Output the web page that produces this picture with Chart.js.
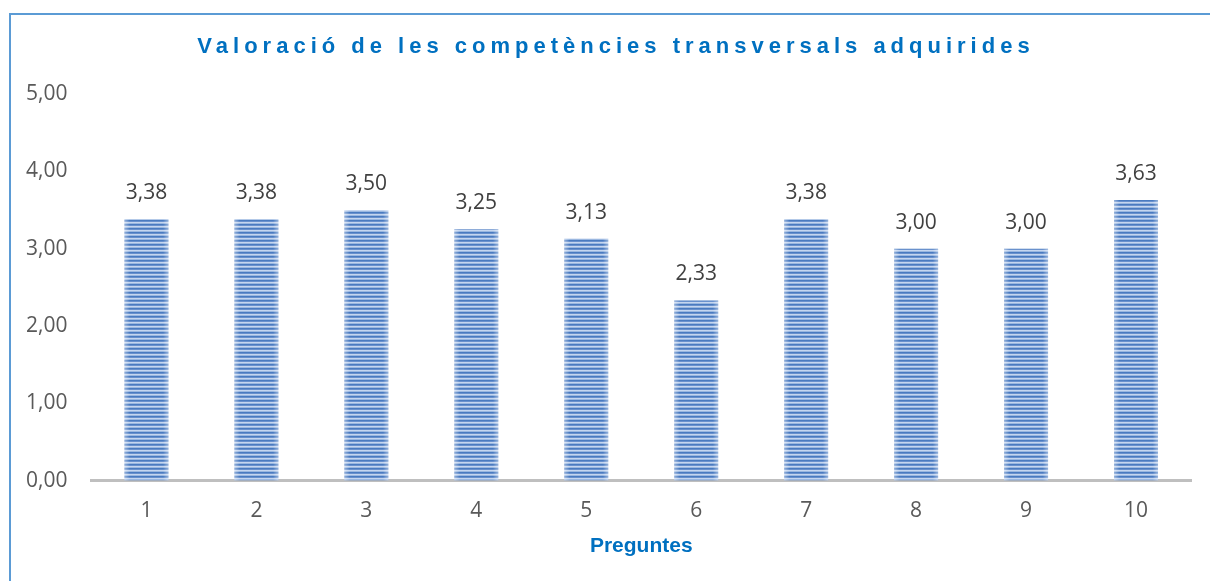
<!DOCTYPE html>
<html>
<head>
<meta charset="utf-8">
<script src="https://cdn.jsdelivr.net/npm/chart.js@4/dist/chart.umd.min.js"></script>
<style>
  html, body { margin: 0; padding: 0; background: #fff; }
  #wrap { position: relative; width: 1210px; height: 581px; }
  #frame { position: absolute; left: 9px; top: 13px; right: 0; bottom: 0; border-left: 2px solid #5B9BD5; border-top: 2px solid #5B9BD5; pointer-events: none; }
  canvas { position: absolute; left: 0; top: 0; }
</style>
</head>
<body>
<div id="wrap">
  <canvas id="c" width="1210" height="581"></canvas>
  <div id="frame"></div>
</div>
<script>
const chartTitle = 'Valoració de les competències transversals adquirides';
const axisTitle = 'Preguntes';
const categories = ['1', '2', '3', '4', '5', '6', '7', '8', '9', '10'];
const values = [3.38, 3.38, 3.50, 3.25, 3.13, 2.33, 3.38, 3.00, 3.00, 3.63];
const yTicks = [0, 1, 2, 3, 4, 5];

const fmt = v => v.toFixed(2).replace('.', ',');

// striped fill
const pc = document.createElement('canvas');
pc.width = 4; pc.height = 4;
const pctx = pc.getContext('2d');
['#4A7BC0', '#6991CD', '#C5D6EF', '#9AB7E0'].forEach((col, i) => { pctx.fillStyle = col; pctx.fillRect(0, i, 4, 1); });
const ctx = document.getElementById('c').getContext('2d');
const stripes = ctx.createPattern(pc, 'repeat');

const valueLabels = {
  id: 'valueLabels',
  afterDatasetsDraw(chart) {
    const c = chart.ctx;
    const meta = chart.getDatasetMeta(0);
    c.save();
    meta.data.forEach(el => {
      const l = el.x - el.width / 2, r = el.x + el.width / 2;
      const g = c.createLinearGradient(l, 0, r, 0);
      g.addColorStop(0, 'rgba(255,255,255,0.4)');
      g.addColorStop(0.12, 'rgba(255,255,255,0)');
      g.addColorStop(0.88, 'rgba(255,255,255,0)');
      g.addColorStop(1, 'rgba(255,255,255,0.4)');
      c.fillStyle = g;
      c.fillRect(l, el.y, el.width, el.base - el.y);
    });
    c.font = '21px "Open Sans"';
    c.fillStyle = '#404040';
    c.textAlign = 'center';
    c.textBaseline = 'middle';
    meta.data.forEach((el, i) => {
      c.fillText(fmt(values[i]), el.x, el.y - 26);
    });
    c.restore();
  }
};

const spacedTitle = {
  id: 'spacedTitle',
  afterDraw(chart) {
    const c = chart.ctx;
    c.save();
    c.font = 'bold 22px "Liberation Sans"';
    c.letterSpacing = '5px';
    c.fillStyle = '#0070C0';
    c.textAlign = 'center';
    c.textBaseline = 'middle';
    c.fillText(chartTitle, 616, 47);
    c.restore();
  }
};

new Chart(ctx, {
  type: 'bar',
  data: {
    labels: categories,
    datasets: [{
      data: values,
      backgroundColor: stripes,
      borderWidth: 0,
      barPercentage: 0.8,
      categoryPercentage: 0.5
    }]
  },
  options: {
    responsive: false,
    animation: false,
    layout: { padding: { left: 2, right: 19, top: 94, bottom: 22 } },
    plugins: { legend: { display: false }, tooltip: { enabled: false }, title: { display: false } },
    scales: {
      y: {
        min: 0, max: 5,
        afterBuildTicks(axis) { axis.ticks = yTicks.map(v => ({ value: v })); },
        grid: { display: false, drawTicks: false },
        border: { display: false },
        ticks: { padding: 24, color: '#595959', font: { family: 'Open Sans', size: 21 }, callback: v => fmt(v) }
      },
      x: {
        grid: { display: false, drawTicks: false },
        border: { display: true, color: '#BFBFBF', width: 3 },
        ticks: { padding: 18, color: '#595959', font: { family: 'Open Sans', size: 21 } },
        title: { display: true, text: axisTitle, color: '#0070C0', font: { family: 'Liberation Sans', size: 21, weight: 'bold' }, padding: { top: -8, bottom: 0 } }
      }
    }
  },
  plugins: [valueLabels, spacedTitle]
});
</script>
</body>
</html>
